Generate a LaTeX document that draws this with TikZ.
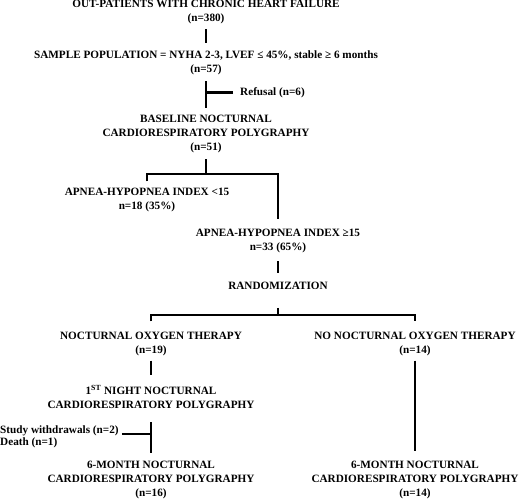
\documentclass[tikz,border=0pt]{standalone}
\usepackage{fontspec}
\setmainfont{Liberation Serif}

\tikzset{
  box/.style={align=center,inner sep=0pt,font=\fontsize{11.2}{14}\selectfont\bfseries},
  side/.style={align=left,anchor=west,inner sep=0pt,font=\fontsize{11.2}{12.5}\selectfont\bfseries},
  stem/.style={line width=2.6pt},
}

\begin{document}
\begin{tikzpicture}[x=1pt,y=-1pt]
          \useasboundingbox (0,0) rectangle (520,499);

          \node[box] (chf) at (206,12) {OUT-PATIENTS WITH CHRONIC HEART FAILURE\\(n=380)};
          \node[box] (sample) at (206,63) {SAMPLE POPULATION = NYHA 2-3, LVEF ≤ 45\%, stable ≥ 6 months\\(n=57)};
          \node[box] (base) at (206,134) {BASELINE NOCTURNAL\\CARDIORESPIRATORY POLYGRAPHY\\(n=51)};
          \node[box] (low) at (147,199.5) {APNEA-HYPOPNEA INDEX <15\\n=18 (35\%)};
          \node[box] (high) at (278,241) {APNEA-HYPOPNEA INDEX ≥15\\n=33 (65\%)};
          \node[box] (rand) at (278,286) {RANDOMIZATION};
          \node[box] (oxy) at (151,343.5) {NOCTURNAL OXYGEN THERAPY\\(n=19)};
          \node[box] (nooxy) at (415,343.5) {NO NOCTURNAL OXYGEN THERAPY\\(n=14)};
          \node[box] (first) at (151,396.5) {1\textsuperscript{ST} NIGHT NOCTURNAL\\CARDIORESPIRATORY POLYGRAPHY};
          \node[box] (sixa) at (151,479.5) {6-MONTH NOCTURNAL\\CARDIORESPIRATORY POLYGRAPHY\\(n=16)};
          \node[box] (sixb) at (415,479.5) {6-MONTH NOCTURNAL\\CARDIORESPIRATORY POLYGRAPHY\\(n=14)};

          \node[side] (refusal) at (240,92.5) {Refusal (n=6)};
          \node[side] (drop) at (0,437) {Study withdrawals (n=2)\\Death (n=1)};

          \coordinate (fork1) at (206,174);
          \coordinate (fork2) at (278,315);
          \coordinate (lost) at (151,434);

          \draw[stem,shorten <=5pt,shorten >=8pt] (chf) -- (sample);
          \draw[stem,shorten <=6pt,shorten >=7pt] (sample) -- (base);
          \draw[stem,shorten <=7pt] (refusal.west) -- (refusal.west -| sample);
          \draw[stem,shorten <=6pt] (base) -- (fork1);
          \draw[stem] ([yshift=6pt]low.north) |- (fork1) -| ([yshift=10pt]high.north);
          \draw[stem,shorten <=8pt,shorten >=9pt] (high) -- (rand);
          \draw[stem,shorten <=18pt] (rand) -- (fork2);
          \draw[stem] ([yshift=10pt]oxy.north) |- (fork2) -| ([yshift=10pt]nooxy.north);
          \draw[stem,shorten <=5pt,shorten >=10pt] (oxy) -- (first);
          \draw[stem,shorten <=14pt,shorten >=7pt] (first) -- (sixa);
          \draw[stem,shorten <=3pt] (drop.east |- lost) -- (lost);
          \draw[stem,shorten <=5pt,shorten >=9pt] (nooxy) -- (sixb);
        \end{tikzpicture}
\end{document}
